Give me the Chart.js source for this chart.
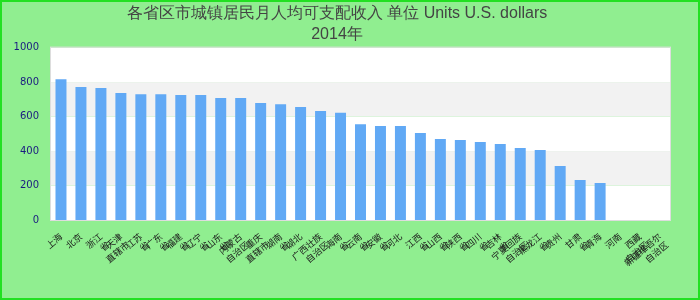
<!DOCTYPE html>
<html lang="zh">
<head>
  <meta charset="UTF-8" />
  <title>各省区市城镇居民月人均可支配收入 2014年</title>
  <script src="https://cdn.jsdelivr.net/npm/chart.js"></script>
  <style>
    body { margin: 0; }
    #chart { display: block; }
  </style>
</head>
<body>
  <canvas id="chart" width="700" height="300"></canvas>

  <script>
    // datos del gráfico
    const titleLines = ['各省区市城镇居民月人均可支配收入 单位 Units U.S. dollars', '2014年'];
    const provinces = [
      '上海', '北京', ['浙江', '省'], ['天津', '直辖市'], ['江苏', '省'], ['广东', '省'],
      ['福建', '省'], ['辽宁', '省'], ['山东', '省'], ['内蒙古', '自治区'], ['重庆', '直辖市'],
      ['湖南', '省'], '湖北', ['广西壮族', '自治区'], ['海南', '省'], ['云南', '省'],
      ['安徽', '省'], '河北', ['江西', '省'], ['山西', '省'], ['陕西', '省'], ['四川', '省'],
      ['吉林', '省'], ['宁夏回族', '自治区'], ['黑龙江', '省'], '贵州', ['甘肃', '省'],
      '青海', '河南', ['西藏', '自治区'], ['新疆维吾尔', '自治区']
    ];
    const values = [
      817, 771, 765, 736, 730, 730, 725, 725, 707, 707, 678, 672, 655, 632, 622, 556,
      545, 545, 504, 470, 464, 452, 441, 418, 406, 313, 232, 214, null, null, null
    ];
    const yTicks = [0, 200, 400, 600, 800, 1000];
    const bandColors = ['#ffffff', '#f2f2f2'];

    // fondo, borde y bandas alternas
    const fondo = {
      id: 'fondo',
      beforeDraw(chart) {
        const ctx = chart.ctx;
        ctx.save();
        ctx.fillStyle = '#90ee90';
        ctx.fillRect(0, 0, chart.width, chart.height);
        ctx.strokeStyle = '#22e022';
        ctx.lineWidth = 2;
        ctx.strokeRect(1, 1, chart.width - 2, chart.height - 2);
        ctx.restore();
      },
      beforeDatasetsDraw(chart) {
        const { ctx, chartArea: a, scales: { y } } = chart;
        ctx.save();
        for (let i = 0; i < yTicks.length - 1; i++) {
          const top = y.getPixelForValue(yTicks[i + 1]);
          const bottom = y.getPixelForValue(yTicks[i]);
          ctx.fillStyle = bandColors[i % 2];
          ctx.fillRect(a.left, top, a.right - a.left, bottom - top);
        }
        ctx.strokeStyle = '#dddddd';
        ctx.lineWidth = 1;
        ctx.strokeRect(a.left - 0.5, a.top - 0.5, a.right - a.left + 1, a.bottom - a.top + 1);
        ctx.restore();
      }
    };

    new Chart(document.getElementById('chart'), {
      type: 'bar',
      data: {
        labels: provinces,
        datasets: [{
          data: values,
          backgroundColor: '#61a9f5',
          barPercentage: 0.55,
          categoryPercentage: 1
        }]
      },
      options: {
        responsive: false,
        animation: false,
        layout: { padding: { left: 4, right: 30, top: 3, bottom: 0 } },
        plugins: {
          legend: { display: false },
          tooltip: { enabled: false },
          title: {
            display: true,
            text: titleLines,
            color: '#444444',
            font: { family: 'Liberation Sans', size: 16, weight: 'normal', lineHeight: 1.3 },
            padding: { top: 0, bottom: 3 }
          }
        },
        scales: {
          x: {
            grid: { display: false },
            border: { display: false },
            ticks: {
              autoSkip: false,
              minRotation: 40,
              maxRotation: 40,
              color: '#1a1a1a',
              font: { family: 'Noto Sans CJK SC', size: 9 }
            },
            afterFit(scale) { scale.height = 80; }
          },
          y: {
            min: 0,
            max: 1000,
            grid: { display: false, drawTicks: false },
            border: { display: false },
            ticks: {
              stepSize: 200,
              padding: 12,
              color: '#1a1a80',
              font: { family: 'DejaVu Sans', size: 10 },
              callback: v => String(v)
            },
            afterFit(scale) { scale.width = 47; }
          }
        }
      },
      plugins: [fondo]
    });
  </script>
</body>
</html>
